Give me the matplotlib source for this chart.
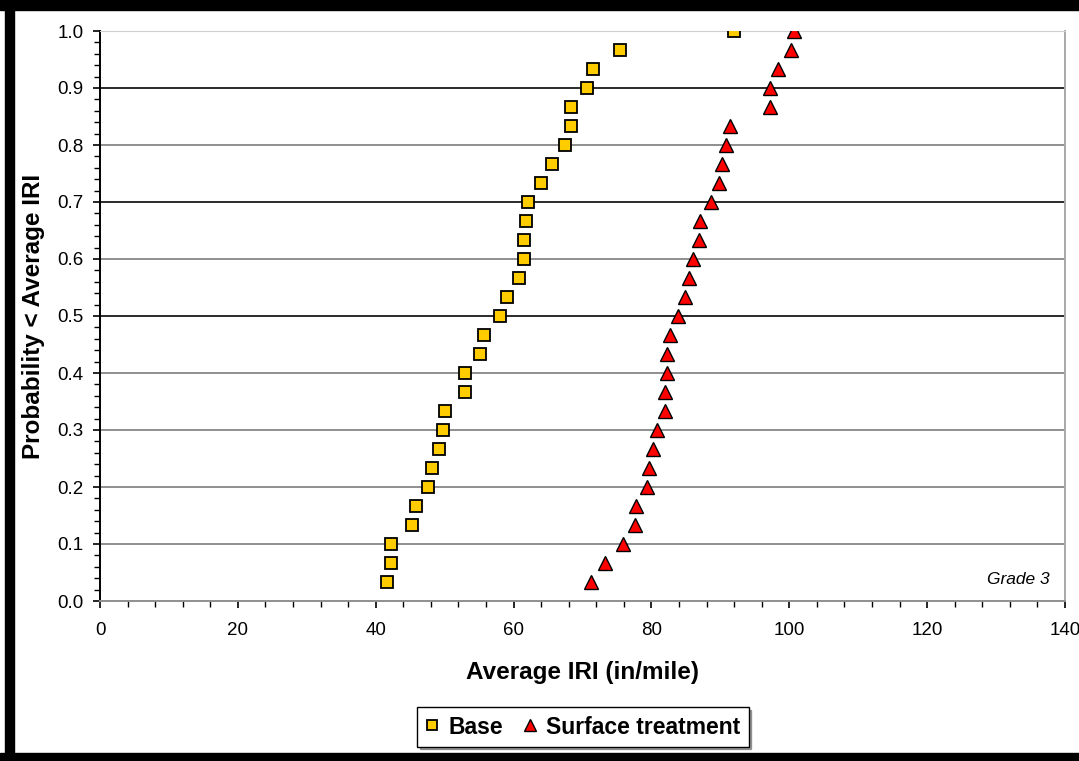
import numpy as np
import matplotlib.pyplot as plt
from matplotlib.ticker import MultipleLocator
from matplotlib.patches import Rectangle

plt.rcParams['font.family'] = ['Liberation Sans', 'DejaVu Sans']

# cumulative probability levels, 30 sections per treatment
prob = np.arange(1, 31) / 30

base_iri = [41.7, 42.2, 42.2, 45.2, 45.9, 47.6, 48.2, 49.2, 49.8, 50.0,
            53.0, 53.0, 55.2, 55.7, 58.0, 59.0, 60.8, 61.5, 61.5, 61.8,
            62.1, 64.0, 65.6, 67.5, 68.3, 68.4, 70.6, 71.5, 75.5, 92.0]
surface_iri = [71.2, 73.3, 75.9, 77.6, 77.8, 79.4, 79.7, 80.2, 80.8, 82.0,
               82.0, 82.2, 82.3, 82.7, 83.9, 84.8, 85.4, 86.1, 86.9, 87.1,
               88.7, 89.8, 90.3, 90.8, 91.4, 97.2, 97.2, 98.3, 100.2, 100.7]

grid_levels = [0.1, 0.2, 0.3, 0.4, 0.5, 0.6, 0.7, 0.8, 0.9, 1.0]
grid_colors = ['#8f8f8f', '#8f8f8f', '#8f8f8f', '#8f8f8f', '#2a2a2a',
               '#8f8f8f', '#2a2a2a', '#8f8f8f', '#2a2a2a', '#cfcfcf']

fig = plt.figure(figsize=(10.79, 7.61), dpi=100)
ax = fig.add_axes([100 / 1079, 160 / 761, 965 / 1079, 570 / 761])

for lvl, c in zip(grid_levels, grid_colors):
    ax.axhline(lvl, color=c, lw=1.4, zorder=1)

ax.plot(base_iri, prob, ls='none', marker='s', ms=8.3, mfc='#ffcc00',
        mec='black', mew=1.3, label='Base', zorder=3)
ax.plot(surface_iri, prob, ls='none', marker='^', ms=10, mfc='#ff0000',
        mec='black', mew=1.0, label='Surface treatment', zorder=3)

ax.set_xlim(0, 140)
ax.set_ylim(0, 1.0)
ax.xaxis.set_major_locator(MultipleLocator(20))
ax.xaxis.set_minor_locator(MultipleLocator(4))
ax.yaxis.set_major_locator(MultipleLocator(0.1))
ax.yaxis.set_minor_locator(MultipleLocator(0.02))
ax.yaxis.set_major_formatter(plt.FormatStrFormatter('%.1f'))

ax.tick_params(which='major', direction='out', length=5, width=1.2,
               labelsize=13.5, colors='black')
ax.tick_params(which='minor', direction='out', length=4, width=1.0)
ax.tick_params(axis='x', which='major', pad=10)
ax.tick_params(axis='y', which='major', pad=7)

ax.spines['left'].set_color('black')
ax.spines['left'].set_linewidth(1.4)
ax.spines['bottom'].set_color('#8f8f8f')
ax.spines['bottom'].set_linewidth(1.4)
ax.spines['top'].set_color('#cfcfcf')
ax.spines['right'].set_color('#a8a8a8')
ax.spines['right'].set_linewidth(1.4)

ax.set_xlabel('Average IRI (in/mile)', fontsize=17.5, fontweight='bold')
ax.xaxis.label.set_va('center')
ax.xaxis.set_label_coords(0.5, -0.125)
ax.set_ylabel('Probability < Average IRI', fontsize=17.5, fontweight='bold')
ax.yaxis.label.set_va('center')
ax.yaxis.set_label_coords(-0.069, 0.5)

ax.text(0.984, 0.038, 'Grade 3', transform=ax.transAxes, ha='right',
        va='center', fontsize=12.5, fontstyle='italic')

leg = fig.legend(loc='center', bbox_to_anchor=(583 / 1079, 34 / 761),
                 ncol=2, frameon=True, fancybox=False, shadow=True,
                 prop={'size': 16.5, 'weight': 'bold'}, handlelength=0.6,
                 handletextpad=0.4, columnspacing=0.9, borderpad=0.35,
                 markerscale=0.85)
leg.get_frame().set_edgecolor('black')
leg.get_frame().set_linewidth(1.0)

# heavy black frame on top, left and bottom edges
for rect in [(0, 751 / 761, 1, 10 / 761), (5 / 1079, 0, 9 / 1079, 1),
             (0, 0, 1, 8 / 761)]:
    fig.patches.append(Rectangle(rect[:2], rect[2], rect[3],
                                 transform=fig.transFigure, color='black',
                                 zorder=10))

fig.savefig('out.png', dpi=100)
